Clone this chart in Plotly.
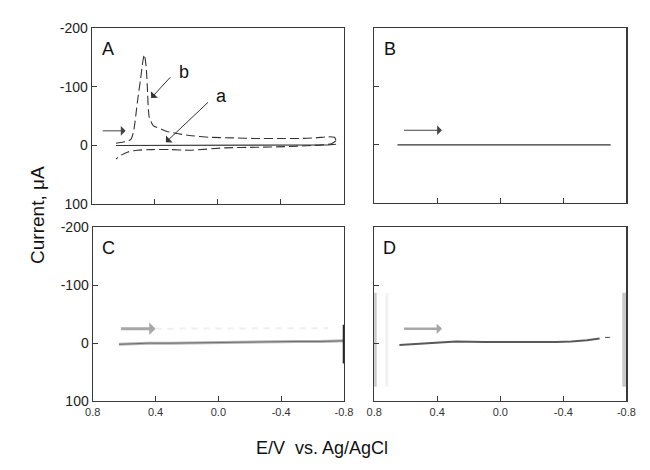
import plotly.graph_objects as go

# ---------------- data ----------------
# Panel A, curve b (dashed): forward and reverse scans
A_b_fwd_E = [0.646, 0.60, 0.553, 0.534, 0.51, 0.49, 0.475, 0.466, 0.455, 0.448, 0.435, 0.41, 0.36, 0.324, 0.25, 0.18, 0.05, -0.10, -0.23, -0.40, -0.52, -0.62, -0.70, -0.74, -0.75]
A_b_fwd_I = [-3.8, -6, -10, -25, -75, -114, -145, -155, -135, -103, -48, -34, -28, -24, -20, -17, -14, -13, -12, -12, -12, -13, -15, -14, -8]
A_b_rev_E = [-0.75, -0.72, -0.66, -0.60, -0.42, -0.25, -0.05, 0.18, 0.30, 0.42, 0.51, 0.57, 0.61, 0.646]
A_b_rev_I = [-8, -3, -1, 0, 2, 3, 4, 8, 7, 7, 8, 11, 16, 23]
# Panel A, curve a (solid)
A_a_E = [0.646, 0.40, 0.00, -0.40, -0.70, -0.75]
A_a_I = [0, 0, 0, 0, -1, -2]

# Panel B
B_E = [0.652, 0.40, 0.00, -0.40, -0.70]
B_I = [0, 0, 0, 0, 0]

# Panel C (blurred trace)
C_E = [0.633, 0.55, 0.45, 0.30, 0.10, -0.10, -0.30, -0.50, -0.65, -0.80]
C_I = [2, 1, 0, 0, -1, -1, -2, -3, -3, -4]
C_faint_E = [0.40, 0.20, 0.00, -0.20, -0.40, -0.70]
C_faint_I = [-25, -25, -26, -26, -26, -26]
C_bar_E = [-0.80, -0.80]
C_bar_I = [-32, 35]

# Panel D
D_E = [0.64, 0.45, 0.28, 0.10, -0.05, -0.20, -0.35, -0.45, -0.55, -0.63]
D_I = [3, 0, -3, -2, -2, -1, -2, -3, -5, -8]
D_dash_E = [-0.665, -0.695]
D_dash_I = [-10, -10]
D_barL_E = [0.80, 0.80]
D_barL2_E = [0.72, 0.72]
D_barR_E = [-0.79, -0.79]
D_bar_I = [-87, 75]

# scan-direction arrows (tail E, head E, current)
arrow_tail_E = [0.74, 0.62, 0.63, 0.62]
arrow_head_E = [0.585, 0.37, 0.40, 0.37]
arrow_I = [-25, -25, -25, -25]

# tick labels
x_tickvals = [0.8, 0.4, 0.0, -0.4, -0.8]
x_ticktext = ["0.8", "0.4", "0.0", "-0.4", "-0.8"]
y_tickvals = [-200, -100, 0, 100]
y_ticktext = ["-200", "-100", "0", "100"]
panel_names = ["A", "B", "C", "D"]

# ---------------- figure ----------------
W, H = 650, 470
fig = go.Figure()

dom_x = [[86 / W, 345 / W], [376 / W, 635 / W], [87 / W, 345 / W], [376 / W, 635 / W]]
dom_y = [[1 - 203 / H, 1 - 21 / H], [1 - 202 / H, 1 - 21 / H], [1 - 407 / H, 1 - 227 / H], [1 - 407 / H, 1 - 227 / H]]

line_col = "#333333"
FONT = "Liberation Sans, Arial, sans-serif"

def ax(i):
    return ("x" if i == 0 else f"x{i+1}"), ("y" if i == 0 else f"y{i+1}")

# Panel A
xa, ya = ax(0)
fig.add_trace(go.Scatter(x=A_b_fwd_E, y=A_b_fwd_I, mode="lines", xaxis=xa, yaxis=ya,
                         line=dict(color=line_col, width=1.1, dash="9px,4px", shape="spline", smoothing=0.6)))
fig.add_trace(go.Scatter(x=A_b_rev_E, y=A_b_rev_I, mode="lines", xaxis=xa, yaxis=ya,
                         line=dict(color=line_col, width=1.1, dash="9px,4px", shape="spline", smoothing=0.6)))
fig.add_trace(go.Scatter(x=A_a_E, y=A_a_I, mode="lines", xaxis=xa, yaxis=ya,
                         line=dict(color=line_col, width=1.1)))

# Panel B
xb, yb = ax(1)
fig.add_trace(go.Scatter(x=B_E, y=B_I, mode="lines", xaxis=xb, yaxis=yb,
                         line=dict(color=line_col, width=1.1)))

# Panel C
xc, yc = ax(2)
fig.add_trace(go.Scatter(x=C_faint_E, y=C_faint_I, mode="lines", xaxis=xc, yaxis=yc,
                         line=dict(color="rgba(120,120,120,0.12)", width=2, dash="6px,6px")))
fig.add_trace(go.Scatter(x=C_E, y=C_I, mode="lines", xaxis=xc, yaxis=yc,
                         line=dict(color="rgba(90,90,90,0.45)", width=3)))
fig.add_trace(go.Scatter(x=C_E, y=C_I, mode="lines", xaxis=xc, yaxis=yc,
                         line=dict(color="rgba(60,60,60,0.6)", width=1)))
fig.add_trace(go.Scatter(x=C_bar_E, y=C_bar_I, mode="lines", xaxis=xc, yaxis=yc,
                         line=dict(color="#222222", width=2.5)))

# Panel D
xd, yd = ax(3)
fig.add_trace(go.Scatter(x=D_barL_E, y=D_bar_I, mode="lines", xaxis=xd, yaxis=yd,
                         line=dict(color="rgba(150,150,150,0.5)", width=5)))
fig.add_trace(go.Scatter(x=D_barL2_E, y=D_bar_I, mode="lines", xaxis=xd, yaxis=yd,
                         line=dict(color="rgba(150,150,150,0.12)", width=3)))
fig.add_trace(go.Scatter(x=D_barR_E, y=D_bar_I, mode="lines", xaxis=xd, yaxis=yd,
                         line=dict(color="rgba(150,150,150,0.5)", width=5)))
fig.add_trace(go.Scatter(x=D_E, y=D_I, mode="lines", xaxis=xd, yaxis=yd,
                         line=dict(color="rgba(60,60,60,0.85)", width=2)))
fig.add_trace(go.Scatter(x=D_dash_E, y=D_dash_I, mode="lines", xaxis=xd, yaxis=yd,
                         line=dict(color="#444444", width=1)))

for i in range(4):
    xs = "xaxis" if i == 0 else f"xaxis{i+1}"
    ys = "yaxis" if i == 0 else f"yaxis{i+1}"
    fig.layout[xs] = dict(domain=dom_x[i], range=[0.8, -0.8], anchor=ax(i)[1],
                          showline=True, mirror=True, linecolor="#3a3a3a", linewidth=1.2,
                          ticks="inside", ticklen=5, tickcolor="#3a3a3a",
                          tickvals=x_tickvals, ticktext=x_ticktext,
                          showticklabels=(i >= 2), showgrid=False, zeroline=False,
                          tickfont=dict(family=FONT, size=11, color="#333333"))
    fig.layout[ys] = dict(domain=dom_y[i], range=[100, -200], anchor=ax(i)[0],
                          showline=True, mirror=True, linecolor="#3a3a3a", linewidth=1.2,
                          ticks="inside", ticklen=5, tickcolor="#3a3a3a",
                          tickvals=y_tickvals, ticktext=y_ticktext,
                          showticklabels=(i in (0, 2)), showgrid=False, zeroline=False,
                          tickfont=dict(family=FONT, size=14, color="#222222"))

annotations = []
# panel labels
for i, name in enumerate(panel_names):
    xr, yr = ax(i)
    annotations.append(dict(x=0.70, y=-165, xref=xr, yref=yr, text=name, showarrow=False,
                            xanchor="center", yanchor="middle",
                            font=dict(family=FONT, size=18, color="#111111")))

# scan direction arrows
arrow_cols = ["#444444", "#444444", "rgba(110,110,110,0.6)", "rgba(110,110,110,0.6)"]
arrow_w = [1, 1, 3, 2.5]
for i in range(4):
    xr, yr = ax(i)
    annotations.append(dict(x=arrow_head_E[i], y=arrow_I[i], ax=arrow_tail_E[i], ay=arrow_I[i],
                            xref=xr, yref=yr, axref=xr, ayref=yr, text="", showarrow=True,
                            arrowhead=1, arrowsize=1.6 if i < 2 else 0.7, arrowwidth=arrow_w[i],
                            arrowcolor=arrow_cols[i]))

# curve labels in A
annotations.append(dict(x=0.423, y=-81, ax=0.293, ay=-119, xref="x", yref="y", axref="x", ayref="y",
                        text="", showarrow=True, arrowhead=1, arrowsize=1.6, arrowwidth=1, arrowcolor="#333333"))
annotations.append(dict(x=0.33, y=-5.5, ax=0.053, ay=-76, xref="x", yref="y", axref="x", ayref="y",
                        text="", showarrow=True, arrowhead=1, arrowsize=1.6, arrowwidth=1, arrowcolor="#333333"))
annotations.append(dict(x=0.215, y=-125, xref="x", yref="y", text="b", showarrow=False,
                        xanchor="center", yanchor="middle",
                        font=dict(family=FONT, size=18, color="#111111")))
annotations.append(dict(x=-0.02, y=-84, xref="x", yref="y", text="a", showarrow=False,
                        xanchor="center", yanchor="middle",
                        font=dict(family=FONT, size=18, color="#111111")))

# axis titles
annotations.append(dict(x=30 / W, y=1 - 214 / H, xref="paper", yref="paper", text="Current, μA",
                        xanchor="center", yanchor="middle",
                        textangle=-90, showarrow=False, font=dict(family=FONT, size=19, color="#111111")))
annotations.append(dict(x=322 / W, y=1 - 456 / H, xref="paper", yref="paper", text="E/V  vs. Ag/AgCl",
                        xanchor="center", yanchor="middle",
                        showarrow=False, font=dict(family=FONT, size=18, color="#111111")))

fig.update_layout(width=W, height=H, margin=dict(l=0, r=0, t=0, b=0),
                  paper_bgcolor="white", plot_bgcolor="white", showlegend=False,
                  annotations=annotations)

fig.write_html("out.html", config={"displayModeBar": False, "staticPlot": True},
               post_script="document.body.style.margin='0px';document.body.style.overflow='hidden';")
